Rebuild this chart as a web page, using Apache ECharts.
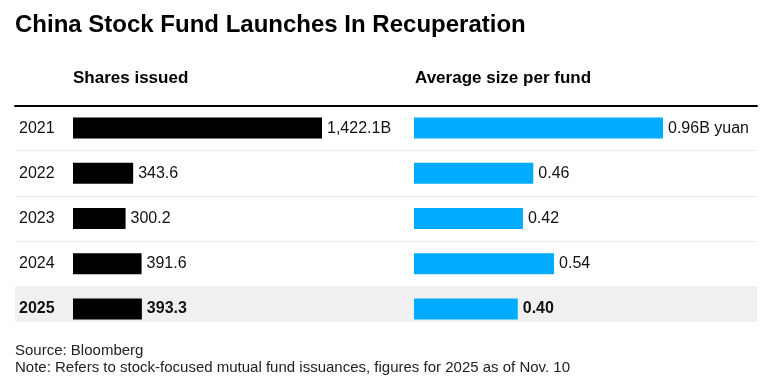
<!DOCTYPE html>
<html>
<head>
<meta charset="utf-8">
<script src="https://cdn.jsdelivr.net/npm/echarts@6/dist/echarts.min.js"></script>
<style>
html,body{margin:0;padding:0;background:#fff;}
#chart{width:768px;height:385px;}
</style>
</head>
<body>
<div id="chart"></div>
<script>
const years = ['2021', '2022', '2023', '2024', '2025'];
const sharesIssued = [1422.1, 343.6, 300.2, 391.6, 393.3];
const avgSizePerFund = [0.96, 0.46, 0.42, 0.54, 0.40];
const highlightYear = '2025';
const titleText = 'China Stock Fund Launches In Recuperation';
const leftHeader = 'Shares issued';
const rightHeader = 'Average size per fund';
const sourceText = 'Source: Bloomberg';
const noteText = 'Note: Refers to stock-focused mutual fund issuances, figures for 2025 as of Nov. 10';

const FONT = '"Liberation Sans", Arial, sans-serif';
const rowTop = 105.5;
const rowH = 45.2;
const nRows = years.length;

function isHi(i) { return years[i] === highlightYear; }

function barData(vals, color) {
  return vals.map((v, i) => ({
    value: v,
    itemStyle: { color: color },
    label: { fontWeight: isHi(i) ? 'bold' : 'normal' }
  }));
}

const chart = echarts.init(document.getElementById('chart'), null, { renderer: 'canvas' });

const option = {
  animation: false,
  backgroundColor: '#fff',
  textStyle: { fontFamily: FONT },
  title: [
    { text: titleText, left: 15, top: 13, padding: 0,
      textStyle: { fontFamily: FONT, fontWeight: 'bold', fontSize: 24, color: '#000' } },
    { text: leftHeader, left: 73, top: 70, padding: 0,
      textStyle: { fontFamily: FONT, fontWeight: 'bold', fontSize: 17, color: '#000' } },
    { text: rightHeader, left: 415, top: 70, padding: 0,
      textStyle: { fontFamily: FONT, fontWeight: 'bold', fontSize: 17, color: '#000' } },
    { text: sourceText + '\n' + noteText, left: 15, top: 342, padding: 0,
      textStyle: { fontFamily: FONT, fontWeight: 'normal', fontSize: 15, lineHeight: 17, color: '#222' } }
  ],
  grid: [
    { left: 15, right: 11, top: rowTop, height: rowH * (nRows - 1) },
    { left: 73, width: 249, top: rowTop, height: rowH * nRows },
    { left: 414, width: 249, top: rowTop, height: rowH * nRows },
    { left: 15, right: 11, top: rowTop - 5, height: rowH * nRows }
  ],
  xAxis: [
    { gridIndex: 0, type: 'value', position: 'top', min: 0, max: 1,
      axisLine: { show: true, lineStyle: { color: '#000', width: 2 } },
      axisTick: { show: false }, axisLabel: { show: false }, splitLine: { show: false } },
    { gridIndex: 1, type: 'value', min: 0, max: Math.max(...sharesIssued), show: false },
    { gridIndex: 2, type: 'value', min: 0, max: Math.max(...avgSizePerFund), show: false },
    { gridIndex: 3, type: 'value', min: 0, max: 1, show: false }
  ],
  yAxis: [
    { gridIndex: 0, type: 'category', inverse: true, data: years.slice(0, nRows - 1),
      axisLine: { show: false }, axisTick: { show: false }, axisLabel: { show: false },
      splitLine: { show: true, lineStyle: { color: '#ececec', width: 1 } } },
    { gridIndex: 1, type: 'category', inverse: true, data: years,
      axisLine: { show: false }, axisTick: { show: false }, splitLine: { show: false },
      axisLabel: {
        align: 'left', margin: 54, fontSize: 16, color: '#111', fontFamily: FONT,
        formatter: v => v === highlightYear ? '{b|' + v + '}' : v,
        rich: { b: { fontWeight: 'bold', fontSize: 16, color: '#111', fontFamily: FONT } }
      } },
    { gridIndex: 2, type: 'category', inverse: true, data: years, show: false },
    { gridIndex: 3, type: 'category', inverse: true, data: years, show: false }
  ],
  series: [
    { type: 'bar', xAxisIndex: 3, yAxisIndex: 3, silent: true, z: 0,
      barWidth: 36,
      data: years.map(y => (y === highlightYear ? 1 : null)),
      itemStyle: { color: '#f0f0f0' } },
    { type: 'bar', xAxisIndex: 1, yAxisIndex: 1, barWidth: 21, z: 3,
      data: barData(sharesIssued, '#000'),
      label: {
        show: true, position: 'right', distance: 5, fontSize: 16, color: '#111', fontFamily: FONT,
        formatter: p => p.dataIndex === 0
          ? p.value.toLocaleString('en-US', { minimumFractionDigits: 1, maximumFractionDigits: 1 }) + 'B'
          : p.value.toFixed(1)
      } },
    { type: 'bar', xAxisIndex: 2, yAxisIndex: 2, barWidth: 21, z: 3,
      data: barData(avgSizePerFund, '#00acff'),
      label: {
        show: true, position: 'right', distance: 5, fontSize: 16, color: '#111', fontFamily: FONT,
        formatter: p => p.dataIndex === 0 ? p.value.toFixed(2) + 'B yuan' : p.value.toFixed(2)
      } }
  ]
};

chart.setOption(option);
</script>
</body>
</html>
